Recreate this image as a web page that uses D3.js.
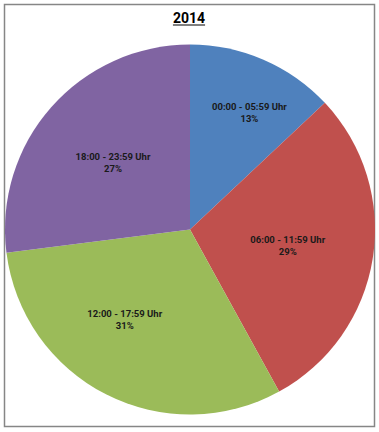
<!DOCTYPE html>
<html>
<head>
<meta charset="utf-8">
<script src="https://cdn.jsdelivr.net/npm/d3@7"></script>
<style>
  body { margin: 0; background: #fff; }
  svg { display: block; }
  .lbl { font-family: Roboto, "Open Sans", sans-serif; font-weight: bold; font-size: 9.5px; fill: #1a1a1a; }
  .title { font-family: Roboto, "Open Sans", sans-serif; font-weight: bold; font-size: 14px; fill: #000; }
</style>
</head>
<body>
<div id="chart"></div>
<script>
/* DATA */
const chartTitle = "2014";
const categories = ["00:00 - 05:59 Uhr", "06:00 - 11:59 Uhr", "12:00 - 17:59 Uhr", "18:00 - 23:59 Uhr"];
const shares = [13, 29, 31, 27];
const colors = ["#4F81BD", "#C0504D", "#9BBB59", "#8064A2"];

// layout only: how far out each label sits (share of radius) and small angle nudge (deg)
const labelRadius = [0.71, 0.535, 0.6, 0.555];
const labelNudge = [3.5, 0, 9, 0];

const width = 379, height = 432;
const cx = 190, cy = 229.5, radius = 185;

const svg = d3.select("#chart")
  .append("svg")
  .attr("width", width)
  .attr("height", height);

// frame
svg.append("rect")
  .attr("x", 4.5)
  .attr("y", 4.5)
  .attr("width", 370)
  .attr("height", 422)
  .attr("fill", "#fff")
  .attr("stroke", "#868686")
  .attr("stroke-width", 1.5);

// title
const title = svg.append("text")
  .attr("class", "title")
  .attr("x", 189)
  .attr("y", 23)
  .attr("text-anchor", "middle")
  .text(chartTitle);

const tb = title.node().getBBox();
svg.append("line")
  .attr("x1", tb.x).attr("x2", tb.x + tb.width)
  .attr("y1", 25).attr("y2", 25)
  .attr("stroke", "#000")
  .attr("stroke-width", 1.2);

const pie = d3.pie().sort(null).value(d => d)(shares);
const arc = d3.arc().innerRadius(0).outerRadius(radius);

const g = svg.append("g").attr("transform", `translate(${cx},${cy})`);

g.selectAll("path.slice")
  .data(pie)
  .join("path")
  .attr("class", "slice")
  .attr("d", arc)
  .attr("fill", (d, i) => colors[i]);

// two separate text lines per slice
const labelPos = pie.map((d, i) => {
  const a = (d.startAngle + d.endAngle) / 2 + labelNudge[i] * Math.PI / 180;
  const r = radius * labelRadius[i];
  return [r * Math.sin(a), -r * Math.cos(a)];
});

g.selectAll("text.cat")
  .data(pie)
  .join("text")
  .attr("class", "lbl cat")
  .attr("text-anchor", "middle")
  .attr("x", (d, i) => labelPos[i][0])
  .attr("y", (d, i) => labelPos[i][1] - 2)
  .text((d, i) => categories[i]);

g.selectAll("text.pct")
  .data(pie)
  .join("text")
  .attr("class", "lbl pct")
  .attr("text-anchor", "middle")
  .attr("x", (d, i) => labelPos[i][0])
  .attr("y", (d, i) => labelPos[i][1] + 10)
  .text(d => d.value + "%");
</script>
</body>
</html>
